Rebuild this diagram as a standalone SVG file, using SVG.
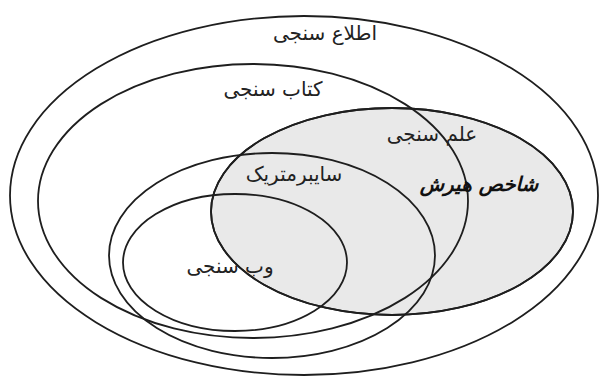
<svg xmlns="http://www.w3.org/2000/svg" width="599" height="376" viewBox="0 0 599 376">
<style>
.e{fill:none;stroke:#1e1e1e;stroke-width:1.8}
.g{fill:#e9e9e9;stroke:#1e1e1e;stroke-width:1.8}
.t{font-family:"DejaVu Sans",sans-serif;font-size:20px;fill:#222;text-anchor:middle;direction:rtl}
.b{font-weight:bold;font-style:italic;font-size:20px;fill:#111}
</style>
<rect width="599" height="376" fill="#fff"/>
<g id="scientometrics-fill">
<ellipse class="g" cx="392" cy="211.5" rx="181" ry="103.5"/>
</g>
<g id="informetrics">
<ellipse class="e" cx="304" cy="195.5" rx="294" ry="179.5"/>
<text class="t" x="325" y="40">اطلاع سنجی</text>
</g>
<g id="bibliometrics">
<ellipse class="e" cx="253" cy="201" rx="215" ry="137"/>
<text class="t" x="273" y="96">کتاب سنجی</text>
</g>
<g id="scientometrics">
<ellipse class="e" cx="392" cy="211.5" rx="181" ry="103.5"/>
<text class="t" x="432" y="141">علم سنجی</text>
<text class="t b" x="479" y="191">شاخص هیرش</text>
</g>
<g id="cybermetrics">
<ellipse class="e" cx="272" cy="255.5" rx="163" ry="102.5"/>
<text class="t" x="294" y="181">سایبرمتریک</text>
</g>
<g id="webometrics">
<ellipse class="e" cx="235" cy="262.5" rx="112" ry="68.5"/>
<text class="t" x="230" y="273">وب سنجی</text>
</g>
</svg>
